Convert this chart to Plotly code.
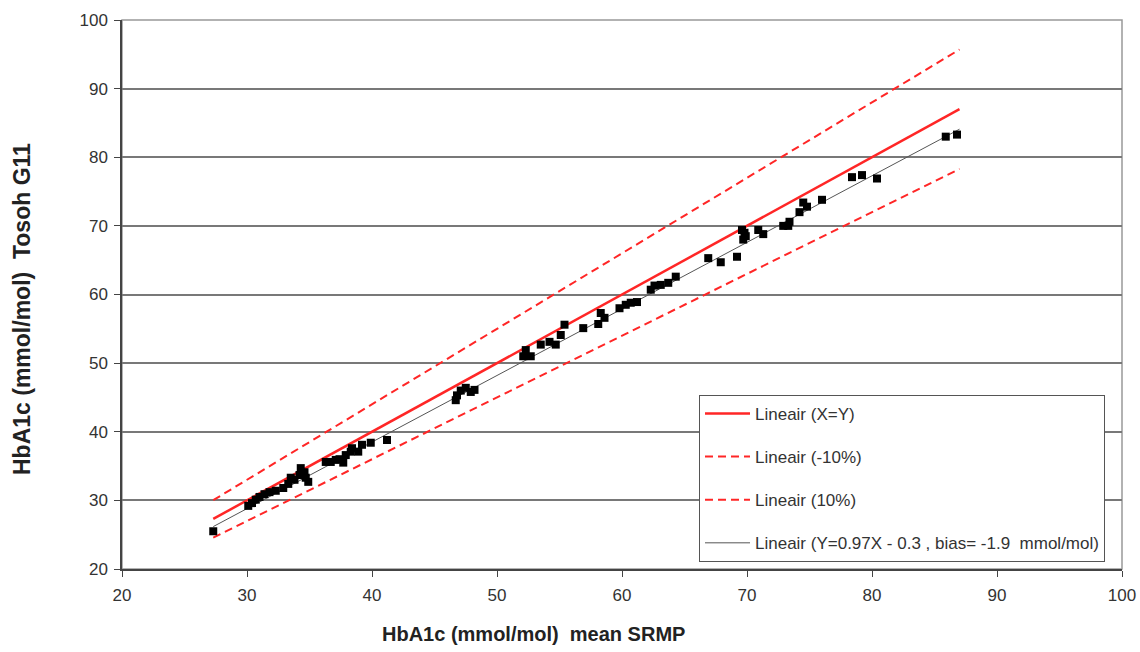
import plotly.graph_objects as go

# Measured data (mean SRMP vs Tosoh G11), mmol/mol
srmp = [27.3, 30.1, 30.4, 30.7, 31.0, 31.4, 31.8, 32.3, 32.9, 33.3, 33.5, 33.8, 34.2, 34.3,
        34.6, 34.7, 34.9, 36.3, 36.7, 37.1, 37.4, 37.7, 37.9, 38.3, 38.4, 38.9, 39.2, 39.9,
        41.2, 46.7, 46.8, 47.1, 47.5, 47.9, 48.2, 52.1, 52.3, 52.7, 53.5, 54.2, 54.7, 55.1,
        55.4, 56.9, 58.1, 58.3, 58.6, 59.8, 60.3, 60.7, 61.2, 62.3, 62.6, 63.1, 63.7, 64.3,
        66.9, 67.9, 69.2, 69.6, 69.7, 69.8, 69.9, 70.9, 71.3, 72.9, 73.3, 73.4, 74.2, 74.5,
        74.8, 76.0, 78.4, 79.2, 80.4, 85.9, 86.8]
tosoh = [25.5, 29.2, 29.6, 30.1, 30.5, 30.9, 31.2, 31.4, 31.8, 32.4, 33.3, 33.0, 33.7, 34.7,
         34.1, 33.3, 32.7, 35.6, 35.6, 35.9, 36.0, 35.5, 36.6, 37.1, 37.6, 37.1, 38.1, 38.4,
         38.8, 44.6, 45.3, 46.0, 46.4, 45.8, 46.1, 51.0, 51.9, 51.0, 52.7, 53.1, 52.7, 54.1,
         55.6, 55.1, 55.7, 57.3, 56.6, 58.0, 58.5, 58.8, 58.9, 60.7, 61.3, 61.4, 61.7, 62.6,
         65.3, 64.7, 65.5, 69.4, 68.0, 69.0, 68.5, 69.4, 68.8, 70.0, 70.0, 70.6, 72.0, 73.4,
         72.8, 73.8, 77.1, 77.4, 76.9, 83.0, 83.3]

# Reference lines
line_x = [27.3, 87.0]
line_names = ["Lineair (X=Y)", "Lineair (-10%)", "Lineair (10%)",
              "Lineair (Y=0.97X - 0.3 , bias= -1.9\u00a0\u00a0mmol/mol)"]
line_slopes = [1.0, 0.9, 1.1, 0.97]
line_intercepts = [0.0, 0.0, 0.0, -0.3]
line_colors = ["#ff2626", "#ff2626", "#ff2626", "#555555"]
line_dashes = ["solid", "8px,5px", "8px,5px", "solid"]
line_widths = [2.5, 2, 2, 1]

x_ticks = [20, 30, 40, 50, 60, 70, 80, 90, 100]
y_ticks = [20, 30, 40, 50, 60, 70, 80, 90, 100]

FONT = "Liberation Sans, Arial, sans-serif"

fig = go.Figure()

for i, name in enumerate(line_names):
    fig.add_trace(go.Scatter(
        x=line_x,
        y=[line_slopes[i] * v + line_intercepts[i] for v in line_x],
        mode="lines",
        name=name,
        legendgroup=f"g{i}",
        line=dict(color=line_colors[i], dash=line_dashes[i], width=line_widths[i]),
        hoverinfo="skip",
    ))

fig.add_trace(go.Scatter(
    x=srmp, y=tosoh, mode="markers",
    marker=dict(symbol="square", size=8, color="black"),
    showlegend=False, name="data",
))

axis_font = dict(family=FONT, size=17, color="#333333")

fig.update_layout(
    width=1140, height=652,
    margin=dict(l=122, r=18, t=20, b=83, autoexpand=False),
    paper_bgcolor="white", plot_bgcolor="white",
    font=axis_font,
    showlegend=True,
    legend=dict(
        x=0.577, y=0.317, xanchor="left", yanchor="top",
        bgcolor="white", bordercolor="#555555", borderwidth=1,
        font=dict(family=FONT, size=17, color="#333333"),
        tracegroupgap=18,
        traceorder="grouped",
        itemwidth=45,
    ),
    xaxis=dict(
        range=[20, 100], tickvals=x_ticks, ticktext=[str(t) for t in x_ticks],
        showgrid=False, zeroline=False,
        showline=True, linecolor="#444444", linewidth=1.5,
        ticks="outside", ticklen=6, tickcolor="#444444",
        tickfont=axis_font, ticklabelstandoff=4,
    ),
    yaxis=dict(
        range=[20, 100], tickvals=y_ticks, ticktext=[str(t) for t in y_ticks],
        showgrid=True, gridcolor="#787878", gridwidth=1.5, zeroline=False,
        showline=True, linecolor="#444444", linewidth=1.5,
        ticks="outside", ticklen=6, tickcolor="#444444",
        tickfont=axis_font, ticklabelstandoff=3,
    ),
    shapes=[dict(type="rect", xref="paper", yref="paper", x0=0, y0=0, x1=1, y1=1,
                 line=dict(color="#999999", width=1.5), layer="below")],
    annotations=[
        dict(text="<b>HbA1c (mmol/mol)\u00a0\u00a0mean SRMP</b>", xref="paper", yref="paper",
             x=(380 - 122) / 1000, y=-(634 - 569) / 549, xanchor="left", yanchor="middle",
             showarrow=False, font=dict(family=FONT, size=20, color="#222222")),
        dict(text="<b>HbA1c (mmol/mol)\u00a0\u00a0Tosoh G11</b>", xref="paper", yref="paper",
             x=-(122 - 22) / 1000, y=(569 - 309) / 549, xanchor="center", yanchor="middle",
             textangle=-90, showarrow=False,
             font=dict(family=FONT, size=23, color="#222222")),
    ],
)

fig.write_html(
    "out.html",
    config={"displayModeBar": False},
    post_script="document.documentElement.style.margin='0';document.body.style.margin='0';"
                "document.documentElement.style.overflow='hidden';document.body.style.overflow='hidden';",
)
